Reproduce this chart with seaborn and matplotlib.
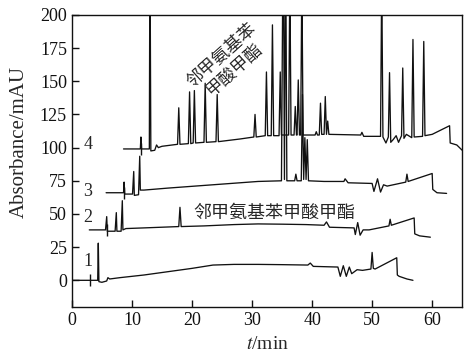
import numpy as np
import pandas as pd
import seaborn as sns
import matplotlib
matplotlib.use("Agg")
import matplotlib.pyplot as plt

# chromatogram traces (t in min, absorbance in mAU, already offset)
t1 = [0, 4.3, 4.4, 4.5, 5.0, 5.8, 6.0, 6.3, 8, 12, 16, 20, 23.5, 27, 31, 35, 39.3, 39.7, 40.2,
      44.3, 44.7, 45.2, 45.7, 46.2, 46.6, 47.5, 48.4, 49.8, 50.0, 50.2, 50.5, 54.1, 54.2, 54.5,
      55.8, 56.8]
a1 = [0, 0, 28, -1, -1.5, -0.5, 2, 1, 2, 4, 6.5, 9, 11.5, 12, 12, 11.8, 11.5, 13, 10.5,
      10, 3, 11, 3, 10, 5, 8, 7.5, 8.5, 21, 9, 8.5, 17, 4, 3,
      1, 0]

t2 = [2.9, 5.6, 5.8, 5.9, 7.2, 7.4, 7.5, 8.2, 8.4, 8.5, 9, 12, 17.8, 18.0, 18.2, 22, 27, 31,
      35, 39, 42, 42.4, 42.9, 47, 47.2, 47.6, 48.0, 48.5, 49.5, 52.8, 53.0, 53.2, 57.0, 57.1,
      57.9, 59.7]
a2 = [38, 38, 48, 37, 37, 51, 37, 37, 60, 38, 39, 39.5, 40.5, 55, 40.5, 41, 42, 42.5,
      42.3, 42, 41.5, 44, 40, 39.5, 34.5, 43.5, 34, 38, 38, 41, 46, 41.5, 47, 35,
      33.5, 32.5]

t3 = [5.7, 8.6, 8.7, 8.8, 10.1, 10.3, 10.4, 11.1, 11.3, 11.4, 12, 16, 22, 28, 31, 34.9, 35.2,
      35.4, 35.6, 35.8, 37.1, 37.3, 37.5, 38.2, 38.4, 38.6, 38.8, 39.0, 39.2, 39.4, 42, 45.3,
      45.5, 46.0, 50.0, 50.3, 50.9, 51.4, 51.9, 52.5, 55.6, 55.8, 56.0, 60.0, 60.1, 60.8, 62.4]
a3 = [66, 66, 74, 65, 65, 82, 64, 64.5, 93.5, 68, 68, 69.5, 71.5, 73.5, 74.5, 75, 280,
      76, 260, 75, 75, 80, 75, 75, 140, 76, 107.5, 76, 106, 75, 74.5, 74.5,
      76.5, 73.5, 73, 67, 76.5, 66.5, 72, 71, 74, 80, 74.5, 80.5, 68.5, 66, 65.5]

t4 = [8.6, 11.4, 11.5, 11.6, 12.9, 13.0, 13.15, 13.8, 14.1, 14.4, 15, 17.6, 17.8, 18.0, 19.4,
      19.6, 19.8, 20.2, 20.4, 20.6, 22.0, 22.2, 22.4, 24.0, 24.2, 24.4, 28, 30.3, 30.5, 30.7,
      32.2, 32.4, 32.6, 33.2, 33.4, 33.6, 34.5, 34.7, 34.9, 36.1, 36.3, 36.5, 37.0, 37.2, 37.4,
      37.5, 37.7, 37.9, 38.1, 38.3, 38.5, 40.5, 40.7, 40.9, 41.2, 41.4, 41.6, 42.0, 42.2, 42.4,
      42.6, 42.8, 48.1, 48.3, 48.6, 51.4, 51.6, 51.8, 52.3, 52.7, 52.9, 53.1, 53.5, 54.0, 54.4,
      54.9, 55.1, 55.3, 55.7, 56.6, 56.8, 57.0, 58.4, 58.6, 58.8, 60.0, 62.9, 63.0, 64.1, 65.0]
a4 = [99, 99, 108, 99, 99, 260, 97.5, 98, 102, 100, 101, 102.5, 130, 102.5, 103,
      142, 103, 103.5, 143, 103.5, 104, 148.5, 104, 104.5, 140, 104.5, 106.5, 108, 125, 108,
      109, 157, 109, 109, 192.5, 109, 109, 157, 109.5, 109.5, 230, 109.5, 109.5, 131, 109.5,
      109.5, 151, 109.5, 109.5, 230, 109.5, 109.5, 112, 109.5, 109.5, 133.5, 110, 110, 138.5, 110,
      120, 110, 109.5, 111.5, 108.5, 108.5, 230, 108, 103.5, 108, 156.5, 104, 106, 109, 104,
      109, 160, 107, 110, 107.5, 181.5, 108, 108.5, 180, 109, 110, 116.5, 103.5, 102, 98]

# injection marks and trace numbers
mark_t = [3.1, 5.8, 8.7, 11.5]
mark_a = [0, 38, 66, 99]
trace_names = ["1", "2", "3", "4"]
name_a = [14.5, 47, 67, 102]

sns.set_theme(style="ticks")
plt.rcParams["font.family"] = ["Liberation Serif", "DejaVu Serif"]
plt.rcParams["mathtext.fontset"] = "stix"

fig = plt.figure(figsize=(4.76, 3.64), dpi=100)
ax = fig.add_axes([0.151, 0.157, 0.820, 0.802])

for t, a in [(t1, a1), (t2, a2), (t3, a3), (t4, a4)]:
    df = pd.DataFrame({"t": t, "a": a})
    sns.lineplot(data=df, x="t", y="a", sort=False, estimator=None,
                 color="#111111", linewidth=0.95, ax=ax)

sns.scatterplot(x=mark_t, y=mark_a, marker="|", s=70, color="#111111",
                linewidth=1.0, ax=ax)

for name, y in zip(trace_names, name_a):
    ax.text(2.7, y, name, fontsize=13, ha="center", va="center")

cjk = ["Noto Sans CJK SC", "DejaVu Sans"]
ax.text(26.0, 164, "邻甲氨基苯\n甲酸甲酯", family=cjk, fontsize=12.5,
        rotation=42, ha="center", va="center", multialignment="center",
        linespacing=1.05, rotation_mode="anchor")
ax.text(33.7, 51, "邻甲氨基苯甲酸甲酯", family=cjk, fontsize=13,
        ha="center", va="center")

ax.set_xlim(0, 65)
ax.set_ylim(-20, 200)
ax.set_xticks(range(0, 61, 10))
ax.set_yticks(range(0, 201, 25))
ax.tick_params(direction="in", length=5, width=1, labelsize=13, colors="#111111",
               top=False, right=False)
for s in ax.spines.values():
    s.set_visible(True)
    s.set_color("#111111")
    s.set_linewidth(1.0)
ax.set_xlabel("$t$/min", fontsize=14, labelpad=5)
ax.set_ylabel("Absorbance/mAU", fontsize=15, labelpad=2)
ax.yaxis.set_label_coords(-0.11, 0.566)
ax.grid(False)

fig.savefig("out.png", dpi=100)
